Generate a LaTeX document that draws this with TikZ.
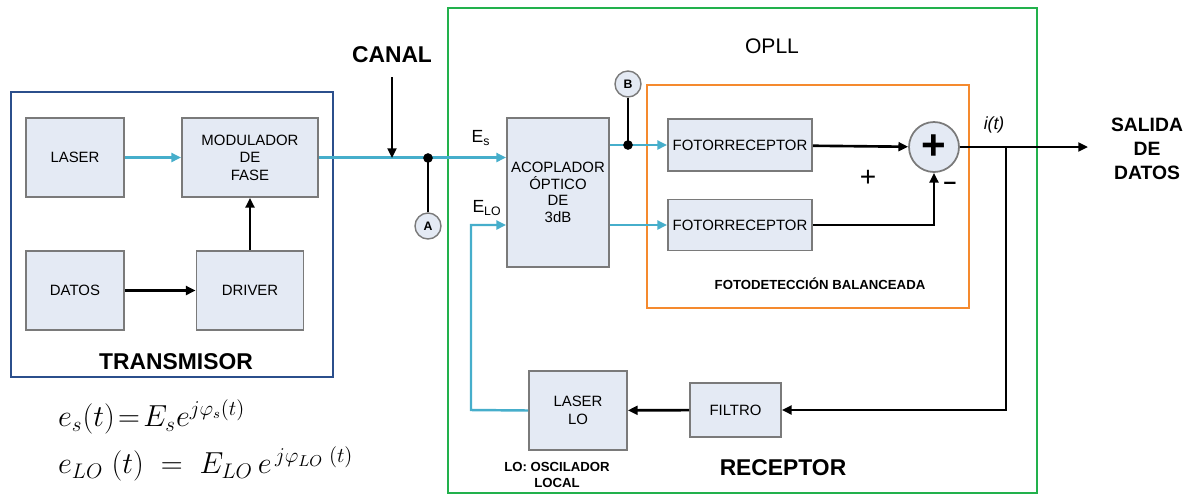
\documentclass[tikz,border=0pt]{standalone}
\usepackage{fontspec}
\setmainfont{Liberation Sans}
\usepackage{amsmath}
\usetikzlibrary{arrows.meta,positioning,calc}
\definecolor{txblue}{HTML}{2B4F8C}
\definecolor{rxgreen}{HTML}{22B14C}
\definecolor{pdorange}{HTML}{F58A2E}
\definecolor{fiber}{HTML}{46AECB}
\definecolor{boxfill}{HTML}{E4EAF4}
\definecolor{boxline}{HTML}{7A7A7A}

\tikzset{
  blk/.style={draw=boxline, fill=boxfill, line width=1pt, align=center,
    font=\fontsize{8.5}{10}\selectfont, inner sep=0pt},
  probe/.style={circle, draw=boxline, fill=boxfill, line width=0.8pt,
    minimum size=0.52cm, inner sep=0pt, font=\bfseries\fontsize{7}{8}\selectfont},
  optic/.style={fiber, line width=1.4pt},
  elec/.style={black, line width=1.5pt},
  junc/.style={circle, fill=black, inner sep=0pt, minimum size=5.5pt},
  title/.style={font=\bfseries\fontsize{13}{15}\selectfont},
}

\begin{document}
\begin{tikzpicture}[x=0.02cm, y=-0.02cm, >={Triangle[length=5.5pt,width=5pt]}]
  \useasboundingbox (0,0) rectangle (1188,495);

  % Transmisor
  \draw[txblue, line width=1.4pt] (11,92) rectangle (333,377);
  \node[title] (txlabel) at (176,362) {TRANSMISOR};
  \node[blk, minimum width=1.96cm, minimum height=1.58cm] (laser) at (75,157.5) {LASER};
  \node[blk, minimum width=2.72cm, minimum height=1.58cm] (mod) at (250,157.5) {MODULADOR\\DE\\FASE};
  \node[blk, minimum width=1.96cm, minimum height=1.58cm] (datos) at (75,290.5) {DATOS};
  \node[blk, minimum width=2.14cm, minimum height=1.58cm] (driver) at (250,290.5) {DRIVER};

  \draw[optic, ->] (laser) -- (mod);
  \draw[elec, ->] (datos) -- (driver);
  \draw[elec, ->] (driver) -- (mod);

  % Receptor
  \draw[rxgreen, line width=1.2pt] (448,8) rectangle (1037,493);
  \node[font=\fontsize{12}{14}\selectfont] (opll) at (772,46) {OPLL};
  \draw[pdorange, line width=1.2pt] (647,85) rectangle (969,308);
  \node[font=\bfseries\fontsize{7.5}{9}\selectfont] (balan) at (820,284) {FOTODETECCIÓN BALANCEADA};

  \node[blk, minimum width=2.04cm, minimum height=2.98cm, font=\fontsize{8.5}{9.5}\selectfont] (acop) at (558,192.5) {ACOPLADOR\\ÓPTICO\\DE\\3dB};
  \node[blk, minimum width=2.88cm, minimum height=1.04cm] (foto1) at (740,145) {FOTORRECEPTOR};
  \node[blk, minimum width=2.88cm, minimum height=1.02cm] (foto2) at (740,225) {FOTORRECEPTOR};
  \node[circle, draw=boxline, fill=boxfill, line width=1pt, minimum size=1.0cm, inner sep=0pt,
    font=\bfseries\fontsize{24}{24}\selectfont] (sum) at (934,147) {+};
  \node[blk, minimum width=1.96cm, minimum height=1.58cm] (laserlo) at (578,410.5) {LASER\\LO};
  \node[blk, minimum width=1.82cm, minimum height=1.08cm] (filtro) at (735.5,410) {FILTRO};

  \node[title] (rxlabel) at (783,468) {RECEPTOR};
  \node[align=center, font=\bfseries\fontsize{7.5}{9}\selectfont] (lonote) at (557,475) {LO: OSCILADOR\\LOCAL};

  % Canal y puntos de medida
  \node[title] (canal) at (392,55) {CANAL};
  \coordinate (canaltop) at (392,77);
  \coordinate (canalhit) at (392,158);
  \coordinate (ja) at (428,158);
  \node[probe] (pa) at (428,226) {A};
  \coordinate (jb) at (628,145);
  \node[probe] (pb) at (628,84) {B};

  \draw[optic, ->] (mod.east) -- (mod.east -| acop.west);
  \draw[elec, ->] (canaltop) -- (canalhit);
  \draw[elec] (pa) -- (ja);
  \node[junc] at (ja) {};
  \node[font=\fontsize{10}{12}\selectfont] (es) at (481,138) {E\textsubscript{s}};
  \node[font=\fontsize{10}{12}\selectfont] (elo) at (487,208) {E\textsubscript{LO}};

  \draw[optic, ->] (acop.east |- foto1.west) -- (foto1.west);
  \draw[optic, ->] (acop.east |- foto2.west) -- (foto2.west);
  \draw[elec] (pb) -- (jb);
  \node[junc] at (jb) {};

  \draw[elec, ->] (foto1) -- (sum);
  \draw[elec, ->] (foto2.east) -| (sum.south);
  \node[font=\fontsize{16}{16}\selectfont] (plus) at (868,178) {+};
  \node[font=\bfseries\fontsize{13}{14}\selectfont] (minus) at (950,186) {–};

  % Salida y lazo
  \coordinate (salida) at (1088,147);
  \coordinate (jout) at (1006,147);
  \coordinate (jdown) at (1006,410);
  \coordinate (lobend) at (471,410);
  \draw[elec, ->] (sum.east) -- (salida);
  \node[font=\itshape\fontsize{10}{12}\selectfont] (it) at (994,125) {i(t)};
  \node[align=center, font=\bfseries\fontsize{11}{13.6}\selectfont] (out) at (1147,149) {SALIDA\\DE\\DATOS};
  \draw[elec, ->] (jout) -- (jdown) -- (filtro.east);
  \draw[elec, ->] (filtro) -- (laserlo);
  \draw[optic, ->] (laserlo.west) -- (lobend) |- (acop.west |- foto2.west);

  % Campos
  \node[anchor=west, font=\fontsize{17}{19}\selectfont] (eqs) at (52,417) {$e_s(t)\!=\!E_s e^{j\varphi_s(t)}$};
  \node[anchor=west, font=\fontsize{17.5}{19}\selectfont] (eqlo) at (52,464) {$e_{LO}\;(t) \;=\; E_{LO}\,e^{\,j\varphi_{LO}\;(t)}$};
\end{tikzpicture}
\end{document}
